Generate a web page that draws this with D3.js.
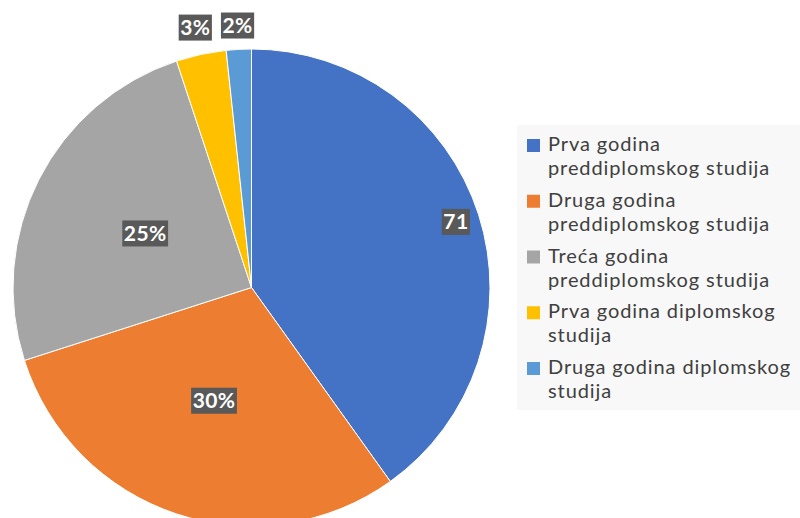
<!DOCTYPE html>
<html>
<head>
<meta charset="utf-8">
<script src="https://cdn.jsdelivr.net/npm/d3@7"></script>
<style>
  html, body { margin: 0; padding: 0; background: #ffffff; }
  svg { display: block; }
</style>
</head>
<body>
<svg id="chart" width="800" height="518"></svg>
<script>
// Student counts by year of study
const categories = [
  "Prva godina preddiplomskog studija",
  "Druga godina preddiplomskog studija",
  "Treća godina preddiplomskog studija",
  "Prva godina diplomskog studija",
  "Druga godina diplomskog studija"
];
const legendLines = [
  ["Prva godina", "preddiplomskog studija"],
  ["Druga godina", "preddiplomskog studija"],
  ["Treća godina", "preddiplomskog studija"],
  ["Prva godina diplomskog", "studija"],
  ["Druga godina diplomskog", "studija"]
];
const values = [71, 53, 44, 6, 3];
// first slice is labelled with its count, the rest with their share
const labelMode = ["value", "percent", "percent", "percent", "percent"];
const colors = ["#4472C4", "#ED7D31", "#A5A5A5", "#FFC000", "#5B9BD5"];

const svg = d3.select("#chart");
const cx = 251.5, cy = 287.5, radius = 238.5;

const total = d3.sum(values);
const pie = d3.pie().sort(null).value(d => d)(values);
const arc = d3.arc().innerRadius(0).outerRadius(radius);

const g = svg.append("g").attr("transform", `translate(${cx},${cy})`);

g.selectAll("path.slice")
  .data(pie)
  .enter().append("path")
  .attr("class", "slice")
  .attr("d", arc)
  .attr("fill", (d, i) => colors[i])
  .attr("stroke", "#ffffff")
  .attr("stroke-width", 1);

// label radius relative to the pie radius
const labelRadius = [0.9, 0.5, 0.5, 1.115, 1.1];
const fmtPct = v => Math.round(v / total * 100) + "%";

pie.forEach((d, i) => {
  const a = (d.startAngle + d.endAngle) / 2;
  const r = radius * labelRadius[i];
  const x = Math.sin(a) * r, y = -Math.cos(a) * r;
  const text = labelMode[i] === "value" ? String(values[i]) : fmtPct(values[i]);
  const lg = g.append("g").attr("transform", `translate(${x},${y})`);
  const t = lg.append("text")
    .attr("text-anchor", "middle")
    .attr("y", 7.5)
    .attr("font-family", "Lato, 'Open Sans', sans-serif")
    .attr("font-weight", "bold")
    .attr("font-size", 21)
    .attr("letter-spacing", 0.4)
    .attr("fill", "#ffffff")
    .text(text);
  const bb = t.node().getBBox();
  lg.insert("rect", "text")
    .attr("x", bb.x - 1.5)
    .attr("y", -13)
    .attr("width", bb.width + 3)
    .attr("height", 26)
    .attr("fill", "#595959");
});

// Legend
const legend = svg.append("g");
legend.append("rect")
  .attr("x", 517).attr("y", 125)
  .attr("width", 283).attr("height", 285)
  .attr("fill", "#f8f8f8");

const itemY = d3.scaleLinear().domain([0, 4]).range([151, 374]);
categories.forEach((c, i) => {
  const y0 = itemY(i);
  legend.append("rect")
    .attr("x", 527).attr("y", y0 - 12)
    .attr("width", 13).attr("height", 13)
    .attr("fill", colors[i]);
  const t = legend.append("text")
    .attr("x", 548)
    .attr("y", y0)
    .attr("font-family", "Lato, 'Open Sans', sans-serif")
    .attr("font-size", 20)
    .attr("letter-spacing", 0.9)
    .attr("fill", "#404040");
  legendLines[i].forEach((ln, j) => {
    t.append("tspan").attr("x", 548).attr("dy", j === 0 ? 0 : 24).text(ln);
  });
});
</script>
</body>
</html>
